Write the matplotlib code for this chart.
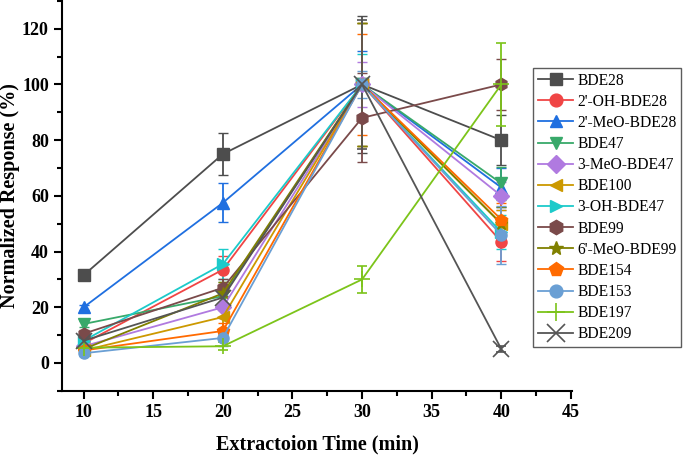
import matplotlib
matplotlib.use("Agg")
import matplotlib.pyplot as plt
from matplotlib.ticker import MultipleLocator
from matplotlib.lines import Line2D

plt.rcParams['font.family'] = ['Liberation Serif', 'DejaVu Serif']

times = [10, 20, 30, 40]
names = ["BDE28", "2'-OH-BDE28", "2'-MeO-BDE28", "BDE47", "3-MeO-BDE47", "BDE100",
         "3-OH-BDE47", "BDE99", "6'-MeO-BDE99", "BDE154", "BDE153", "BDE197", "BDE209"]
values = [
    [31.5, 75.0, 100, 80.0],
    [7.0, 33.5, 100, 43.5],
    [20.0, 57.5, 100, 63.0],
    [14.0, 24.0, 100, 64.5],
    [6.0, 20.0, 100, 60.0],
    [4.5, 16.5, 100, 50.0],
    [8.0, 35.5, 100, 47.0],
    [10.5, 27.0, 88.0, 100],
    [5.0, 25.0, 100, 50.0],
    [4.5, 11.5, 100, 51.5],
    [3.5, 9.0, 100, 46.0],
    [5.5, 6.0, 30.0, 100],
    [8.0, 23.5, 100, 5.0],
]
errors = [
    [1.0, 7.5, 24.5, 9.0],
    [1.0, 5.0, 22.0, 7.0],
    [1.0, 7.0, 12.0, 7.0],
    [1.0, 5.0, 22.0, 6.0],
    [1.0, 4.0, 8.0, 5.0],
    [1.0, 4.0, 22.0, 5.0],
    [1.0, 5.5, 11.0, 6.0],
    [1.5, 3.0, 16.0, 9.0],
    [1.0, 4.0, 22.0, 6.0],
    [1.0, 3.0, 18.0, 6.0],
    [1.0, 3.0, 5.0, 10.5],
    [1.0, 1.5, 5.0, 15.0],
    [1.0, 3.0, 23.0, 1.0],
]
colors = ["#4d4d4d", "#f04545", "#1f6fe0", "#38a96a", "#b07ae0", "#cc9900",
          "#1ccaca", "#7a4a4a", "#808000", "#ff6a00", "#6a9fd4", "#7cc41a", "#555555"]
markers = ["s", "o", "^", "v", "D", "<", ">", "h", "*", "p", "o", "+", "x"]

fig = plt.figure(figsize=(6.85, 4.55), dpi=100)
ax = fig.add_axes([0.0905, 0.141, 0.745, 0.857])

handles = []
for name, v, e, c, m in zip(names, values, errors, colors, markers):
    ms = 9 if m in ("*", "p", "h") else 8
    if m in ("+", "x"):
        ms = 11
    mew = 1.0 if m not in ("+", "x") else 1.2
    ax.errorbar(times, v, yerr=e, color=c, marker=m, markersize=ms,
                markeredgewidth=mew, markeredgecolor=c, linewidth=1.3,
                capsize=3.5, elinewidth=1.3, capthick=1.3)
    handles.append(Line2D([], [], color=c, marker=m, markersize=ms * 1.15,
                          markeredgewidth=mew, markeredgecolor=c, linewidth=1.3,
                          label=name))

ax.set_xlim(8.45, 45.1)
ax.set_ylim(-10, 130)
ax.xaxis.set_major_locator(MultipleLocator(5))
ax.xaxis.set_minor_locator(MultipleLocator(2.5))
ax.yaxis.set_minor_locator(MultipleLocator(10))
ax.set_yticks([0, 20, 40, 60, 80, 100, 120])
ax.spines['top'].set_visible(False)
ax.spines['right'].set_visible(False)
for s in ('left', 'bottom'):
    ax.spines[s].set_linewidth(1.5)
ax.tick_params(which='major', direction='out', length=6, width=1.5, labelsize=13)
ax.tick_params(which='minor', direction='out', length=3.5, width=1.5)
for lab in ax.get_xticklabels() + ax.get_yticklabels():
    lab.set_fontweight('bold')

ax.set_xlabel("Extractoion Time (min)", fontsize=14.5, fontweight='bold', labelpad=10)
ax.set_ylabel("Normalized Response (%)", fontsize=14.5, fontweight='bold')
ax.yaxis.set_label_coords(-0.082, 0.5)

leg = fig.legend(handles=handles, loc='upper left',
                 bbox_to_anchor=(533 / 685, 1 - 68 / 455),
                 prop={'family': 'Liberation Serif', 'size': 11.2},
                 frameon=True, fancybox=False, edgecolor='#333333',
                 handlelength=2.3, handletextpad=0.25, labelspacing=0.33,
                 borderpad=0.3, borderaxespad=0)
leg.get_frame().set_linewidth(1.0)

fig.savefig("out.png", dpi=100)
